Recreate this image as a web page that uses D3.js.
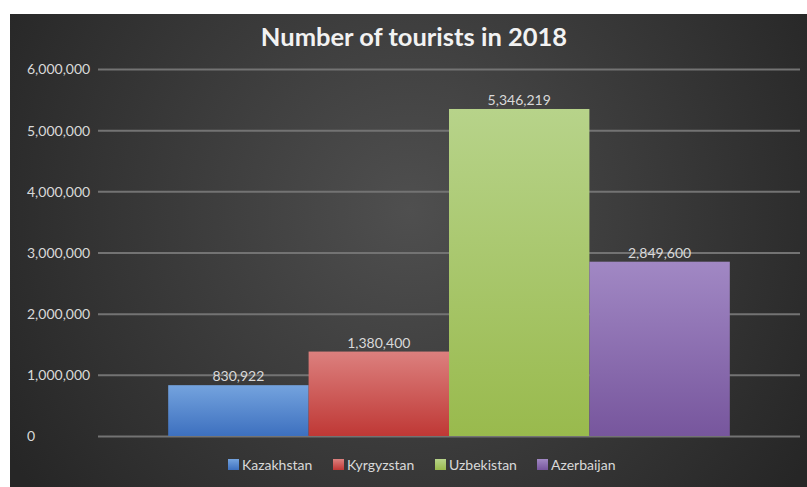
<!DOCTYPE html>
<html>
<head>
<meta charset="utf-8">
<script src="https://cdn.jsdelivr.net/npm/d3@7"></script>
<style>
  html, body { margin: 0; padding: 0; background: #ffffff; }
  svg { display: block; }
</style>
</head>
<body>
<svg id="chart" width="807" height="487"></svg>
<script>
// Tourist arrivals, 2018
const countries = ["Kazakhstan", "Kyrgyzstan", "Uzbekistan", "Azerbaijan"];
const tourists = [830922, 1380400, 5346219, 2849600];
const yTicks = [0, 1000000, 2000000, 3000000, 4000000, 5000000, 6000000];
const chartTitle = "Number of tourists in 2018";

const colorTop = ["#74a3de", "#dc807e", "#b7d38a", "#a188c4"];
const colorBottom = ["#3d70bf", "#bf3835", "#99ba4d", "#77569d"];

const W = 807, H = 487;
const frame = { left: 10, top: 14 };
const plot = { left: 98, right: 800, top: 69, bottom: 436 };

const svg = d3.select("#chart");
const defs = svg.append("defs");

const bg = defs.append("radialGradient")
  .attr("id", "bgGrad")
  .attr("gradientUnits", "userSpaceOnUse")
  .attr("cx", 410).attr("cy", 210).attr("r", 470);
bg.append("stop").attr("offset", "0%").attr("stop-color", "#4f4f4f");
bg.append("stop").attr("offset", "100%").attr("stop-color", "#262626");

countries.forEach((c, i) => {
  const g = defs.append("linearGradient")
    .attr("id", "barGrad" + i)
    .attr("x1", 0).attr("y1", 0).attr("x2", 0).attr("y2", 1);
  g.append("stop").attr("offset", "0%").attr("stop-color", colorTop[i]);
  g.append("stop").attr("offset", "100%").attr("stop-color", colorBottom[i]);
});

svg.append("rect")
  .attr("x", frame.left).attr("y", frame.top)
  .attr("width", W - frame.left).attr("height", H - frame.top)
  .attr("fill", "url(#bgGrad)");

const x = d3.scaleBand()
  .domain(countries)
  .range([plot.left, plot.right])
  .paddingInner(0)
  .paddingOuter(0.5);

const y = d3.scaleLinear()
  .domain([0, 6000000])
  .range([plot.bottom, plot.top]);

const fmt = d3.format(",");
const font = "Lato, 'Open Sans', sans-serif";

// Gridlines via the axis generator
const grid = svg.append("g")
  .attr("transform", `translate(${plot.left},0)`)
  .call(d3.axisRight(y).tickValues(yTicks).tickSize(plot.right - plot.left).tickFormat(""));
grid.select(".domain").remove();
grid.selectAll(".tick line")
  .attr("stroke", "#737373")
  .attr("stroke-width", 2);

// Y labels, left aligned
const yAxis = svg.append("g")
  .attr("transform", `translate(27,0)`)
  .call(d3.axisLeft(y).tickValues(yTicks).tickSize(0).tickPadding(0).tickFormat(fmt));
yAxis.select(".domain").remove();
yAxis.selectAll(".tick text")
  .attr("text-anchor", "start")
  .attr("dy", "0.35em")
  .attr("fill", "#d9d9d9")
  .style("font-family", font)
  .style("font-size", "14px");

// Bars
svg.append("g").selectAll("rect")
  .data(countries)
  .join("rect")
  .attr("x", d => x(d))
  .attr("y", (d, i) => y(tourists[i]))
  .attr("width", x.bandwidth())
  .attr("height", (d, i) => y(0) - y(tourists[i]))
  .attr("fill", (d, i) => `url(#barGrad${i})`);

// Value labels
svg.append("g").selectAll("text")
  .data(countries)
  .join("text")
  .attr("x", d => x(d) + x.bandwidth() / 2)
  .attr("y", (d, i) => y(tourists[i]) - 4)
  .attr("text-anchor", "middle")
  .attr("fill", "#d9d9d9")
  .style("font-family", font)
  .style("font-size", "14px")
  .text((d, i) => fmt(tourists[i]));

// Title
svg.append("text")
  .attr("x", 414)
  .attr("y", 46)
  .attr("text-anchor", "middle")
  .attr("fill", "#f2f2f2")
  .style("font-family", font)
  .style("font-weight", "bold")
  .style("font-size", "25.5px")
  .text(chartTitle);

// Legend
const legendX = d3.scaleOrdinal()
  .domain(countries)
  .range([228, 333, 435, 537]);
const legend = svg.append("g").selectAll("g")
  .data(countries)
  .join("g")
  .attr("transform", d => `translate(${legendX(d)},459)`);
legend.append("rect")
  .attr("width", 11).attr("height", 11)
  .attr("fill", (d, i) => `url(#barGrad${i})`);
legend.append("text")
  .attr("x", 14).attr("y", 10.5)
  .attr("fill", "#d9d9d9")
  .style("font-family", font)
  .style("font-size", "14px")
  .text(d => d);
</script>
</body>
</html>
